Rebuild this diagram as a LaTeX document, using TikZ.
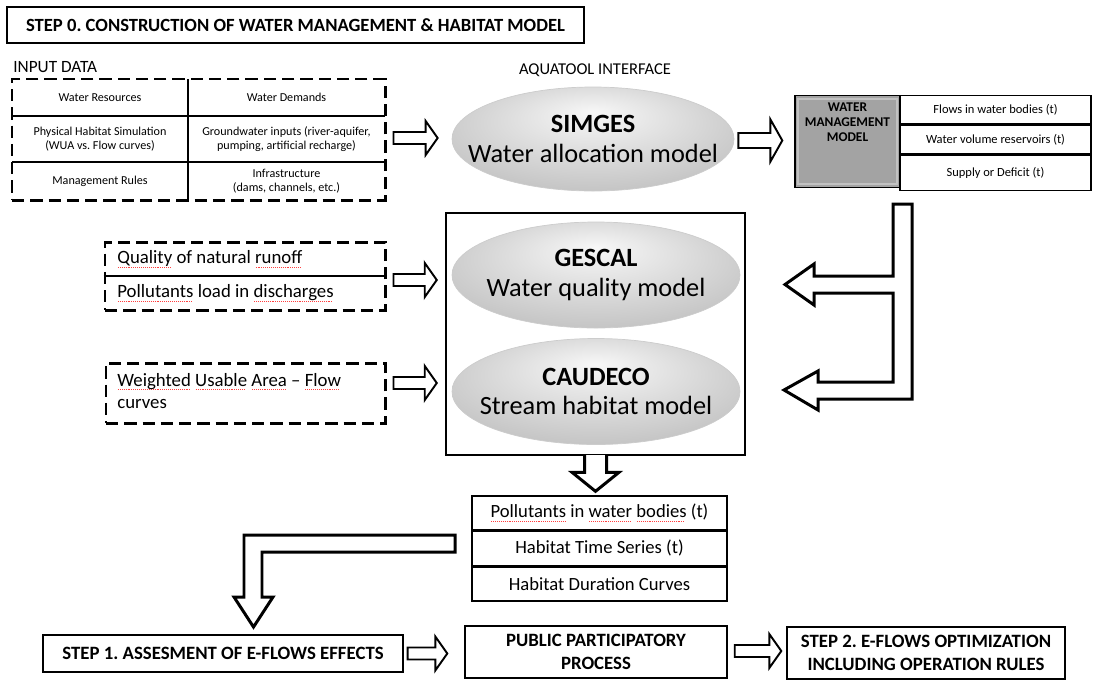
\documentclass[tikz,border=0pt]{standalone}
\usepackage{fontspec}
\setmainfont{Carlito}
\usepackage{tikz}
\usetikzlibrary{positioning,calc}
\usetikzlibrary{shapes.geometric}
\frenchspacing

% unité : un pixel du schéma
\newlength{\px}
\setlength{\px}{0.02cm}
\newcommand{\fsize}[2]{\fontsize{#1}{#2}\selectfont}

% dégradé des modèles
\pgfdeclareradialshading{lisse}{\pgfpoint{0bp}{13bp}}{%
  color(0bp)=(white!97!black); color(15bp)=(white!87!black);
  color(35bp)=(white!74!black); color(50bp)=(white!64!black)}

% mot souligné par le correcteur
\newsavebox{\motbox}
\newcommand{\spell}[1]{\sbox{\motbox}{#1}%
  \rlap{\raisebox{-2.1pt}{\color{red!75}\leaders\hbox to 1.1pt{\hss\rule{0.5pt}{0.35pt}\hss}\hskip\wd\motbox}}%
  \usebox{\motbox}}

\tikzset{
  boite/.style={draw, line width=0.8pt, inner sep=0pt, align=center, font=\fsize{10.7}{13}\bfseries},
  pointille/.style={draw, line width=1.7pt, dash pattern=on 7pt off 3.4pt, inner sep=0pt},
  cellule/.style={inner sep=0pt, align=center, font=\fsize{6.9}{7.9}},
  rangee/.style={draw, line width=0.8pt, inner sep=0pt, minimum width=191\px, font=\fsize{7.1}{8}},
  ligne/.style={draw, line width=0.8pt, inner sep=0pt, minimum width=255\px, minimum height=34\px, font=\fsize{10.6}{12}},
  lentille/.style={ellipse, shade, shading=lisse, draw=gray!40, line width=0.4pt,
    minimum width=288\px, minimum height=106\px, inner sep=-20pt, align=center, font=\fsize{15}{17}},
  bloc/.style={draw, fill=white, line width=1.1pt, line join=miter},
  gros/.style={bloc, line width=1.7pt}
}

% flèche creuse horizontale de #2 vers #3 (#1 : grossissement)
\newcommand{\fleche}[3][1]{%
  \draw[bloc] ($(#2)+(0,-6*#1)$) -- ($(#3 |- #2)+(-12,-6*#1)$) -- ($(#3 |- #2)+(-12,-17*#1)$)
    -- (#3 |- #2) -- ($(#3 |- #2)+(-12,17*#1)$) -- ($(#3 |- #2)+(-12,6*#1)$)
    -- ($(#2)+(0,6*#1)$) -- cycle;}

\begin{document}
\begin{tikzpicture}[x=0.02cm, y=-0.02cm]
	\useasboundingbox (0,0) rectangle (1094,680);

	% Titre
	\node[boite, font=\fsize{10.6}{12}\bfseries, minimum width=577\px, minimum height=36\px] (etape0) at (295.5,25) {STEP 0. CONSTRUCTION OF WATER MANAGEMENT \& HABITAT MODEL};

	% Données d'entrée
	\node[anchor=base west, inner sep=0pt, font=\fsize{9.8}{11}] (donnees) at (13,72) {INPUT DATA};
	\node[pointille, minimum width=373\px, minimum height=121\px] (entrees) at (198.5,139.5) {};
	\draw[line width=0.6pt] (188,79) -- (188,200);
	\draw[line width=0.6pt] (12,116) -- (385,116);
	\draw[line width=0.6pt] (12,162) -- (385,162);
	\node[cellule] (ressources) at (100,97.5) {Water Resources};
	\node[cellule] (demandes) at (286.5,97.5) {Water Demands};
	\node[cellule] (habitat) at (100,139) {Physical Habitat Simulation\\(WUA vs. Flow curves)};
	\node[cellule] (souterraine) at (286.5,139) {Groundwater inputs (river-aquifer,\\pumping, artificial recharge)};
	\node[cellule] (regles) at (100,181) {Management Rules};
	\node[cellule] (infra) at (286.5,181) {Infrastructure\\(dams, channels, etc.)};

	% Interface et modèle de gestion
	\node[inner sep=0pt, font=\fsize{9.4}{11}] (aquatool) at (595,70.5) {AQUATOOL INTERFACE};
	\node[lentille, minimum width=282\px, minimum height=104\px] (simges) at (593,139) {\textbf{SIMGES}\\Water allocation model};

	\node[draw, line width=0.8pt, fill=black!36, minimum width=105\px, minimum height=92\px, inner sep=0pt] (gestion) at (847.5,141.5) {};
	\draw[white!76!black, line width=1.2pt] ($(gestion.north west)+(4,4)$) rectangle ($(gestion.south east)+(-4,-4)$);
	\node[inner sep=0pt, align=center, font=\fsize{7.6}{8.5}\bfseries] (gestiontxt) at (847.5,122.5) {WATER\\MANAGEMENT\\MODEL};
	\node[rangee, minimum height=28\px] (debits) at (995.5,109.5) {Flows in water bodies (t)};
	\node[rangee, minimum height=29\px, below=0pt of debits] (volumes) {Water volume reservoirs (t)};
	\node[rangee, minimum height=35\px, below=0pt of volumes] (bilan) {Supply or Deficit (t)};

	\coordinate (f1a) at ($(entrees.east)+(7,-1.5)$);
	\coordinate (f1b) at ($(simges.west)+(-14,0)$);
	\fleche{f1a}{f1b}
	\coordinate (f2a) at ($(simges.east)+(4,1.5)$);
	\coordinate (f2b) at ($(gestion.west)+(-12,0)$);
	\fleche[1.25]{f2a}{f2b}

	% Qualité et habitat
	\node[draw, line width=1.4pt, minimum width=299\px, minimum height=242\px, inner sep=0pt] (modeles) at (595.5,334) {};
	\node[lentille] (gescal) at (596,275) {\textbf{GESCAL}\\Water quality model};
	\node[lentille] (caudeco) at (596,391.5) {\textbf{CAUDECO}\\Stream habitat model};

	\node[pointille, minimum width=280\px, minimum height=68\px] (qualite) at (245,276) {};
	\draw[line width=0.8pt] (qualite.west) -- (qualite.east);
	\node[anchor=west, inner sep=0pt, font=\fsize{10.7}{12}] (ruissellement) at (117,259) {\spell{Quality} of natural \spell{runoff}};
	\node[anchor=west, inner sep=0pt, font=\fsize{10.7}{12}] (rejets) at (117,293) {\spell{Pollutants} load in \spell{discharges}};

	\node[pointille, minimum width=279\px, minimum height=60\px] (courbes) at (245.5,393) {};
	\node[anchor=north west, inner sep=0pt, align=left, font=\fsize{10.7}{12.3}] (surface) at (117,373) {\spell{Weighted} \spell{Usable} \spell{Area} – \spell{Flow}\\curves};

	\coordinate (f3a) at ($(qualite.east)+(7,4)$);
	\coordinate (f3b) at ($(modeles.west)+(-8,0)$);
	\fleche{f3a}{f3b}
	\coordinate (f4a) at ($(courbes.east)+(7,-10)$);
	\fleche{f4a}{f3b}

	% Retour du modèle de gestion
	\draw[gros] (893,204) -- (912,204) -- (912,399) -- (818,399) -- (818,410) -- (784,390) -- (818,371) -- (818,382)
		-- (893,382) -- (893,293) -- (814,293) -- (814,305) -- (785,284.5) -- (814,264) -- (814,276) -- (893,276) -- cycle;

	% Résultats
	\node[ligne] (polluants) at (599.5,513) {\spell{Pollutants} in \spell{water} \spell{bodies} (t)};
	\node[ligne, below=0pt of polluants] (serie) {Habitat Time Series (t)};
	\node[ligne, below=0pt of serie] (duree) {Habitat Duration Curves};

	\coordinate (f5a) at (modeles.south);
	\coordinate (f5b) at ($(polluants.north)+(0,-4)$);
	\draw[gros] ($(f5a)+(-11,-1.2)$) -- ($(f5a |- f5b)+(-11,-19)$) -- ($(f5a |- f5b)+(-23.5,-19)$) -- (f5a |- f5b)
		-- ($(f5a |- f5b)+(23.5,-19)$) -- ($(f5a |- f5b)+(11,-19)$) -- ($(f5a)+(11,-1.2)$);

	\draw[gros] (455,535) -- (244,535) -- (244,597) -- (234,597) -- (253.5,627) -- (273,597) -- (262,597) -- (262,552) -- (455,552) -- cycle;

	% Étapes suivantes
	\node[boite, minimum width=360\px, minimum height=37\px] (etape1) at (223,653.5) {STEP 1. ASSESMENT OF E-FLOWS EFFECTS};
	\node[boite, minimum width=262\px, minimum height=52\px] (public) at (596,652) {PUBLIC PARTICIPATORY\\PROCESS};
	\node[boite, minimum width=278\px, minimum height=52\px] (etape2) at (926,653) {STEP 2. E-FLOWS OPTIMIZATION\\INCLUDING OPERATION RULES};

	\coordinate (f6a) at ($(etape1.east)+(4,0)$);
	\coordinate (f6b) at ($(public.west)+(-17,0)$);
	\fleche{f6a}{f6b}
	\coordinate (f7a) at ($(public.east)+(7,-1)$);
	\coordinate (f7b) at ($(etape2.west)+(-5,0)$);
	\fleche{f7a}{f7b}
\end{tikzpicture}
\end{document}
